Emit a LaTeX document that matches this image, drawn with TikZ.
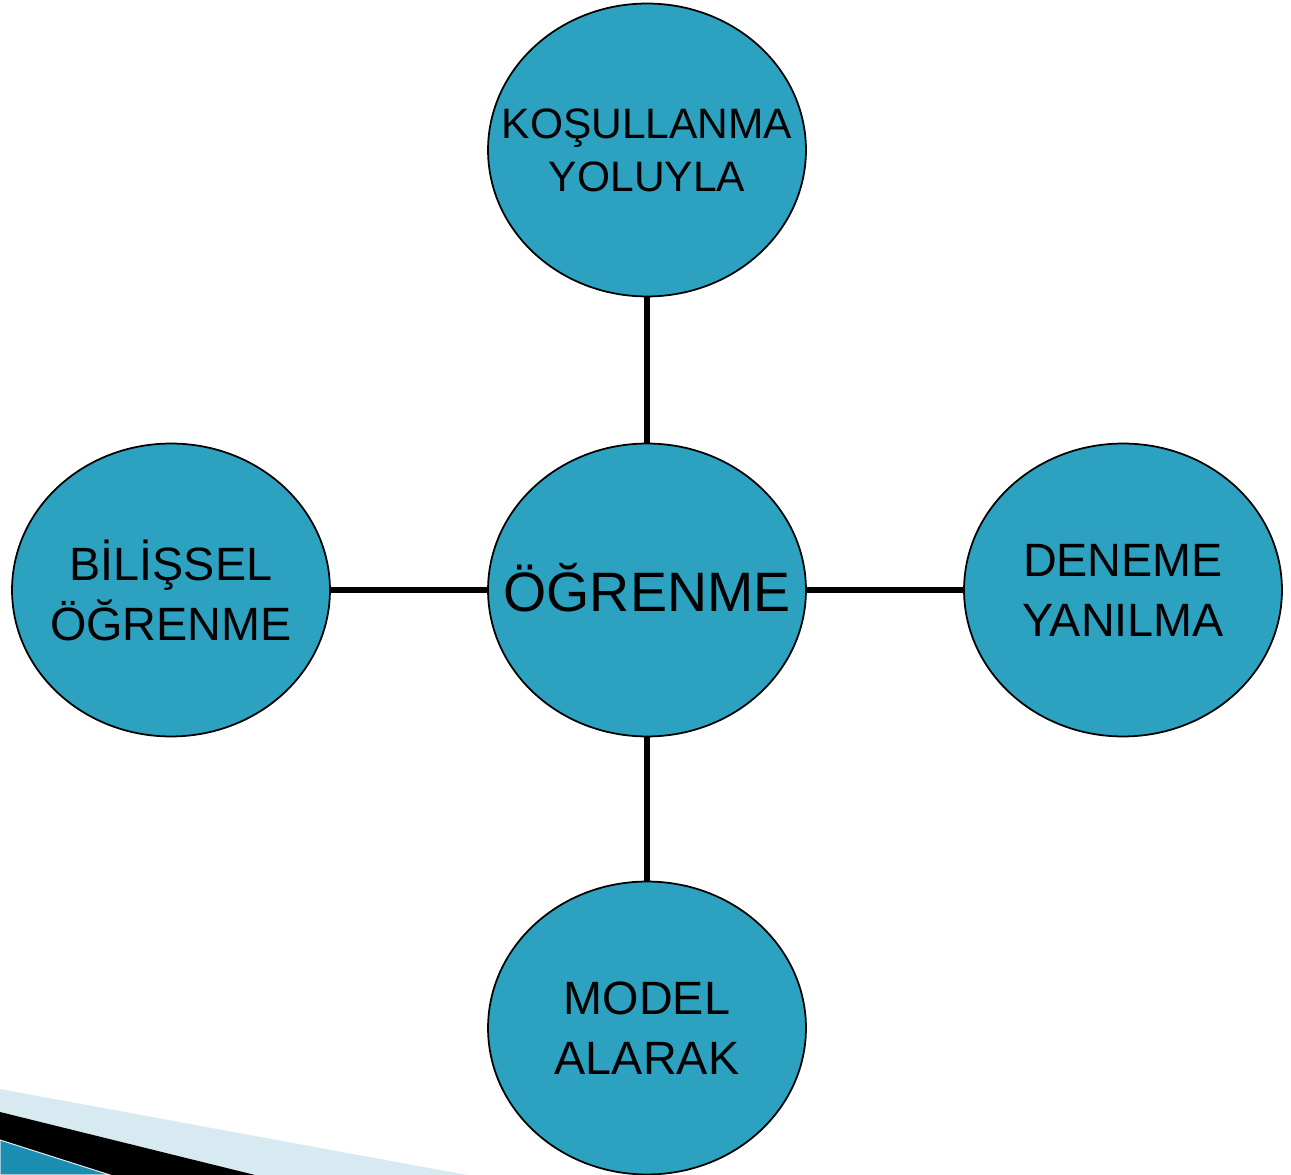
\documentclass[tikz,border=0pt]{standalone}
\usepackage{fontspec}
\setmainfont{Liberation Sans}
\usetikzlibrary{shapes.geometric}
\definecolor{balon}{RGB}{44,161,192}
\definecolor{acikmavi}{RGB}{215,234,242}
\definecolor{koyumavi}{RGB}{27,141,176}
\begin{document}
\begin{tikzpicture}[x=0.02cm, y=-0.02cm,
	bubble/.style={ellipse, draw=black, line width=1pt, fill=balon, minimum width=6.36cm, minimum height=5.86cm, inner sep=0pt},
	yazi/.style={align=center, text=black, font=\fontsize{26.6pt}{34.1pt}\selectfont},
	baglanti/.style={line width=3pt}]
	\useasboundingbox (0,0) rectangle (1291,1175);
	%corner
	\fill[acikmavi] (0,1089) -- (467,1175) -- (0,1175) -- cycle;
	\fill[black] (0,1112) -- (255,1175) -- (0,1175) -- cycle;
	\filldraw[fill=koyumavi, draw=acikmavi, line width=0.6pt] (0,1140) -- (110,1175) -- (0,1175) -- cycle;
	%bubbles
	\node[bubble] (merkez) at (647,590) {};
	\node[bubble] (kosul) at (647,150) {};
	\node[bubble] (bilissel) at (171,590) {};
	\node[bubble] (deneme) at (1123,590) {};
	\node[bubble] (model) at (647,1028) {};
	%texts
	\node[yazi, anchor=base, font=\fontsize{31.6pt}{38pt}\selectfont] (merkezyazi) at (647,611) {ÖĞRENME};
	\node[yazi, font=\fontsize{24.2pt}{30.2pt}\selectfont] (kosulyazi) at (kosul) {KOŞULLANMA\\YOLUYLA};
	\node[yazi] (bilisselyazi) at (bilissel) {BİLİŞSEL\\ÖĞRENME};
	\node[yazi] (denemeyazi) at (deneme) {DENEME\\YANILMA};
	\node[yazi] (modelyazi) at (model) {MODEL\\ALARAK};
	%lines
	\foreach \n in {kosul,bilissel,deneme,model}
	\draw[baglanti] (merkez) -- (\n);
\end{tikzpicture}
\end{document}
